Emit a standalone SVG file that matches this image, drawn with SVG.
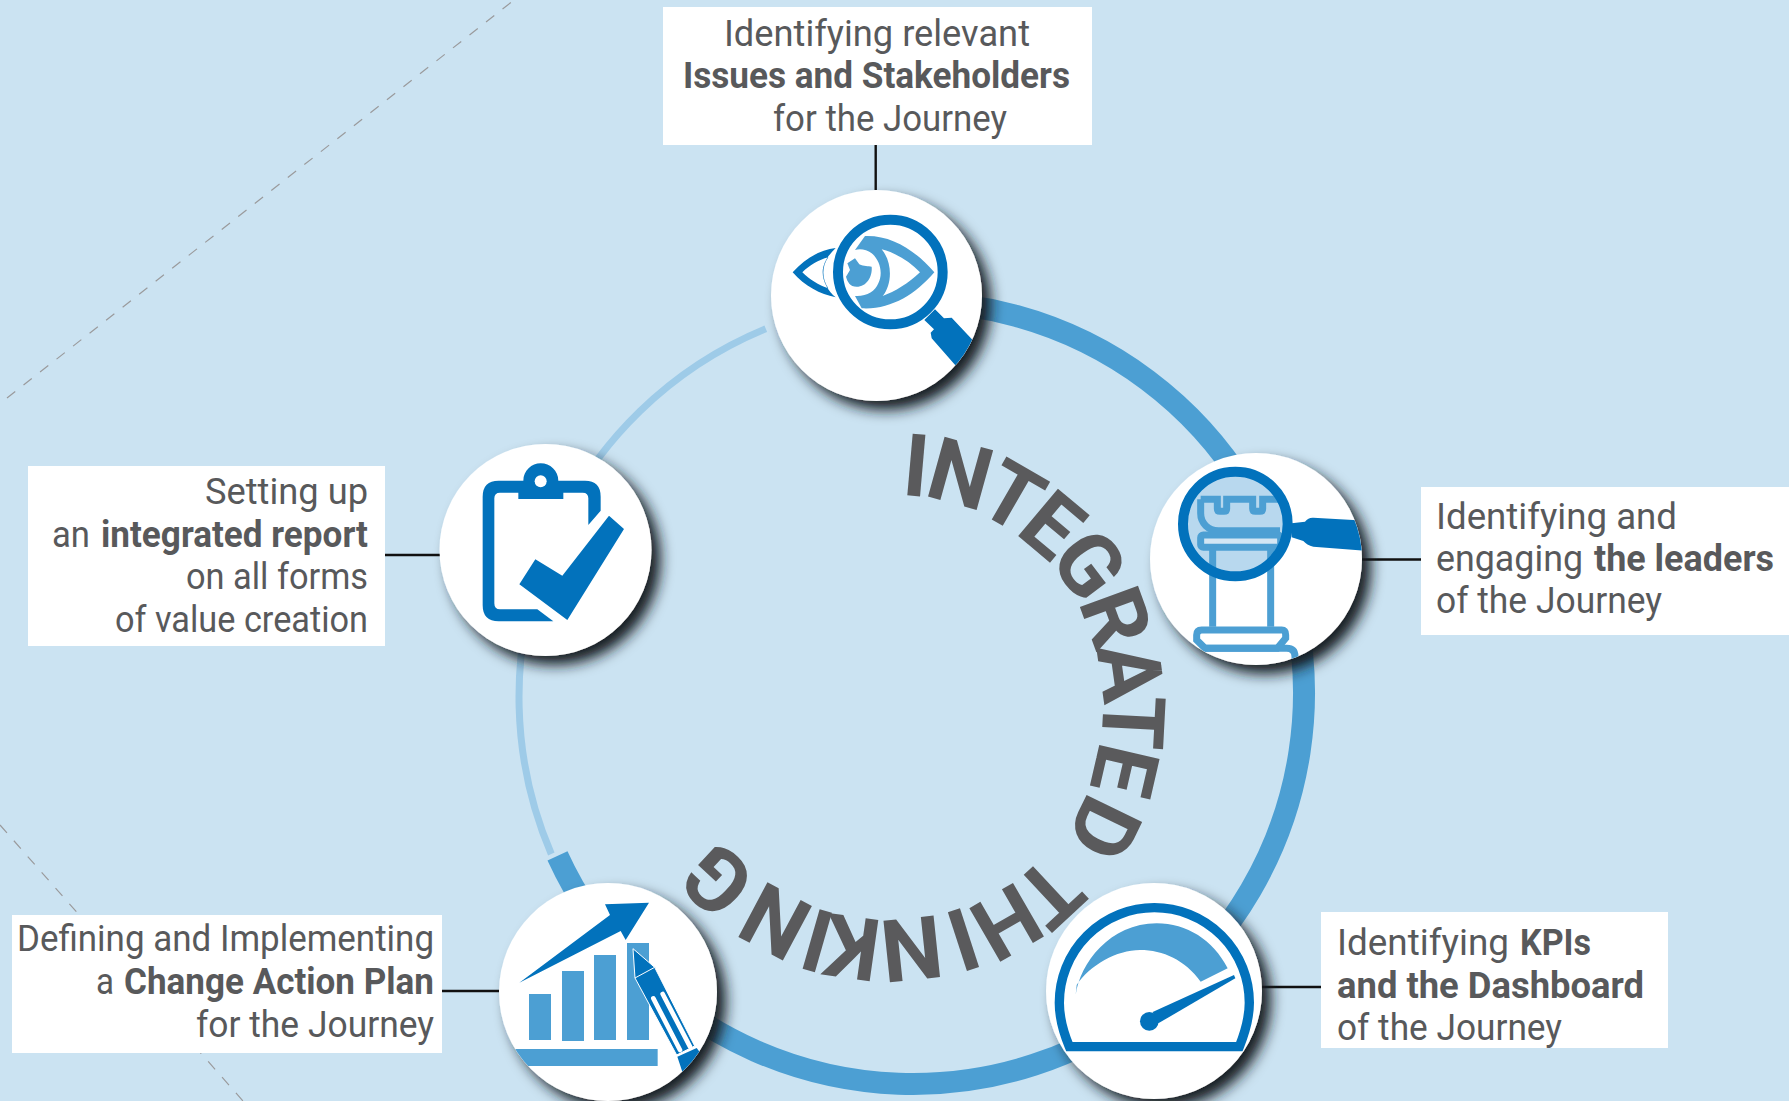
<svg xmlns="http://www.w3.org/2000/svg" width="1789" height="1101" viewBox="0 0 1789 1101">
<style>
.d{fill:#0272bc}.l{fill:#4c9fd3}.w{fill:#fff}
.ln{fill:none;stroke:#4c9fd3}
.box{fill:#fff}
.t{font-family:Roboto,"Liberation Sans",sans-serif;font-size:36.5px;fill:#58595b}
.b{font-weight:700}
.c{fill:#fff;filter:url(#sh)}
.conn{stroke:#111;stroke-width:2.4;fill:none}
.dash{stroke:#9a9a9c;stroke-width:1.2;stroke-dasharray:10.5 10.5;fill:none}
.big{font-family:Roboto,"Liberation Sans",sans-serif;font-weight:700;font-size:87px;fill:#5a5a5c}
</style>
<defs>
<filter id="sh" x="-25%" y="-25%" width="160%" height="160%"><feDropShadow dx="9" dy="9" stdDeviation="7" flood-color="#151b20" flood-opacity="1"/></filter>
<clipPath id="c1"><circle cx="876.5" cy="295.5" r="105.5"/></clipPath>
<clipPath id="c2"><circle cx="1256" cy="559" r="106"/></clipPath>
<clipPath id="c3"><circle cx="1154" cy="991" r="108"/></clipPath>
<clipPath id="c4"><circle cx="608" cy="992" r="109"/></clipPath>
</defs>
<rect width="1789" height="1101" fill="#cbe3f2"/>
<g id="connectors">
<path class="dash" d="M7,398 L514,0"/>
<path class="dash" d="M0,825 L243,1101"/>
<path d="M880,303.4 A391,391 0 1 1 557.5,855.8" fill="none" stroke="#4c9fd3" stroke-width="22"/>
<path d="M765.8,328.8 A398,398 0 0 0 551.3,854" fill="none" stroke="#9ecbe8" stroke-width="7"/>
<path class="conn" d="M875.7,145 V190"/>
<path class="conn" d="M1362,559.5 H1421"/>
<path class="conn" d="M1262,987 H1321"/>
<path class="conn" d="M442,991 H499"/>
<path class="conn" d="M385,555 H440"/>
</g>
<g id="title">
<text class="big" x="901.05 922.8 973.9 1014 1047.2 1077.9 1096.2 1104.1 1100.6 1088.9" y="494.7 494.9 509.3 532.5 559.1 601.7 647.5 693.8 739.8 790.1" rotate="5 15.5 30 40 53 70 82 93 103 116">INTEGRATED</text>
<text class="big" x="1048 1017.8 966.1 939.1 883.7 837.9 816.7 760" y="852.2 880.3 906.3 915.1 920.8 914.4 908.4 878.6" rotate="137 150 162 174 188 196 208 223">THINKING</text>
</g>
<g id="node-issues">
<circle class="c" cx="876.5" cy="295.5" r="105.5"/>
<g clip-path="url(#c1)"><g transform="translate(740,170) scale(.33333)">
<path class="d" fill-rule="evenodd" d="M158,307 C195,265 240,240 287,234 C265,255 248,280 248,307 C248,335 265,365 287,382 C240,372 195,350 158,307 Z M187,307 C210,330 235,345 265,355 C245,325 245,290 265,262 C235,270 210,285 187,307 Z"/>
<path class="l" d="M345,240 L375,198 C455,195 525,240 583,307 C525,375 450,420 365,415 L345,378 C380,380 405,365 415,340 C430,310 420,270 395,250 C380,238 360,235 345,240 Z"/>
<path class="w" d="M425,238 C470,250 510,275 540,307 C505,340 465,365 428,378 C455,345 460,280 425,238 Z"/>
<path class="l" d="M322,280 L345,265 L358,283 C372,290 385,288 395,290 C398,320 380,350 350,350 C330,350 322,335 318,320 L330,300 Z"/>
<path class="d" d="M585,418 L612,445 L635,443 L700,512 L650,590 L575,505 L572,488 L582,478 L553,450 Z"/>
<circle cx="451" cy="306" r="157" fill="none" stroke="#0272bc" stroke-width="30"/>
</g></g>
<rect class="box" x="663" y="7" width="429" height="138"/>
<text class="t"><tspan x="724" y="45.5" textLength="306" lengthAdjust="spacingAndGlyphs">Identifying relevant</tspan><tspan class="b" x="683" y="87.5" textLength="387" lengthAdjust="spacingAndGlyphs">Issues and Stakeholders</tspan><tspan x="773" y="130.5" textLength="234" lengthAdjust="spacingAndGlyphs">for the Journey</tspan></text>
</g>
<g id="node-leaders">
<circle class="c" cx="1256" cy="559" r="106"/>
<g clip-path="url(#c2)"><g transform="translate(1130,430) scale(.33333)">
<path class="d" d="M485,280 L525,275 Q535,262 550,263 L700,272 L700,362 L550,350 Q530,345 520,333 L485,322 Z"/>
<circle cx="316" cy="282" r="157" fill="#b8d8ee"/>
<g class="ln" stroke-width="21">
<path d="M212,208 H262 V236 Q262,244 270,244 H282 Q290,244 290,236 V208 H368 V236 Q368,244 376,244 H390 Q398,244 398,236 V208 H445 M212,208 V250 C212,280 235,302 265,302 H450"/>
<rect x="212" y="315" width="240" height="37" rx="8" fill="#d3e6f4"/>
<path d="M248,352 V590 M422,352 V590"/>
<path d="M215,600 H455 Q467,600 467,615 V625 L442,655 H225 L200,630 V615 Q200,600 215,600 Z" fill="#fff"/>
<path d="M225,655 H470 Q495,655 495,680 V705"/>
</g>
<circle cx="316" cy="282" r="157" fill="none" stroke="#0272bc" stroke-width="30"/>
</g></g>
<rect class="box" x="1421" y="487" width="368" height="148"/>
<text class="t"><tspan x="1436" y="528.5" textLength="241" lengthAdjust="spacingAndGlyphs">Identifying and</tspan><tspan x="1436" y="571" textLength="147" lengthAdjust="spacingAndGlyphs">engaging</tspan><tspan class="b" x="1594" y="571" textLength="180" lengthAdjust="spacingAndGlyphs">the leaders</tspan><tspan x="1436" y="613" textLength="226" lengthAdjust="spacingAndGlyphs">of the Journey</tspan></text>
</g>
<g id="node-kpis">
<circle class="c" cx="1154" cy="991" r="108"/>
<g clip-path="url(#c3)"><g transform="translate(1030,860) scale(.33333)">
<path d="M118,560 C95,505 88,470 88,428 A285,285 0 0 1 658,428 C658,470 650,505 628,560 Z" fill="none" stroke="#0272bc" stroke-width="28"/>
<path class="l" d="M137,405 C150,310 240,190 380,190 C470,190 550,240 593,325 L512,365 C465,300 400,270 330,270 C260,270 180,315 140,375 Z"/>
<circle class="d" cx="358" cy="484" r="28"/>
<path class="d" d="M368,456 L612,345 L616,355 L385,490 Z"/>
</g></g>
<rect class="box" x="1321" y="912" width="347" height="136"/>
<text class="t"><tspan x="1337" y="955" textLength="172" lengthAdjust="spacingAndGlyphs">Identifying</tspan><tspan class="b" x="1520" y="955" textLength="71" lengthAdjust="spacingAndGlyphs">KPIs</tspan><tspan class="b" x="1337" y="998" textLength="307" lengthAdjust="spacingAndGlyphs">and the Dashboard</tspan><tspan x="1337" y="1040" textLength="225" lengthAdjust="spacingAndGlyphs">of the Journey</tspan></text>
</g>
<g id="node-plan">
<circle class="c" cx="608" cy="992" r="109"/>
<g clip-path="url(#c4)"><g transform="translate(480,850) scale(.33333)">
<path class="l" d="M147,432 H213 V570 H147 Z M246,363 H312 V573 H246 Z M342,315 H408 V570 H342 Z M441,279 H507 V570 H441 Z M90,597 H533 V648 H90 Z"/>
<path class="d" d="M118,398 L390,195 L375,163 L507,158 L437,270 L422,243 Z"/>
<path class="d" d="M459,296 L524,352 L644,588 L590,615 L465,384 Z" stroke="#fff" stroke-width="3"/>
<path d="M465,384 L524,352" stroke="#fff" stroke-width="3" fill="none"/>
<path d="M520,445 L600,600 M548,432 L630,590" stroke="#fff" stroke-width="14" stroke-linecap="round" fill="none"/>
<path class="d" d="M592,620 L650,594 L670,620 L612,680 Z"/>
</g></g>
<rect class="box" x="12" y="915" width="430" height="138"/>
<text class="t"><tspan x="17" y="951" textLength="417" lengthAdjust="spacingAndGlyphs">Defining and Implementing</tspan><tspan x="96" y="994" textLength="18" lengthAdjust="spacingAndGlyphs">a</tspan><tspan class="b" x="124" y="994" textLength="310" lengthAdjust="spacingAndGlyphs">Change Action Plan</tspan><tspan x="196" y="1037" textLength="238" lengthAdjust="spacingAndGlyphs">for the Journey</tspan></text>
</g>
<g id="node-report">
<circle class="c" cx="545.5" cy="550" r="106"/>
<g transform="translate(430,430) scale(.33333)">
<path class="d" d="M158,200 Q158,152 206,152 H280 C280,122 305,100 332,100 C360,100 385,122 385,152 H465 Q512,152 512,200 V242 L475,285 V205 Q475,188 458,188 H400 V207 H265 V188 H210 Q193,188 193,205 V520 Q193,538 210,538 H322 L370,574 H206 Q158,574 158,526 Z"/>
<circle class="w" cx="332" cy="154" r="18"/>
<path class="d" d="M268,463 L316,388 L397,437 L537,257 L582,297 L412,570 Z"/>
</g>
<rect class="box" x="28" y="466" width="357" height="180"/>
<text class="t"><tspan x="205" y="504" textLength="163" lengthAdjust="spacingAndGlyphs">Setting up</tspan><tspan x="52" y="547" textLength="38" lengthAdjust="spacingAndGlyphs">an</tspan><tspan class="b" x="101" y="547" textLength="267" lengthAdjust="spacingAndGlyphs">integrated report</tspan><tspan x="186" y="589" textLength="182" lengthAdjust="spacingAndGlyphs">on all forms</tspan><tspan x="115" y="632" textLength="253" lengthAdjust="spacingAndGlyphs">of value creation</tspan></text>
</g>
</svg>
